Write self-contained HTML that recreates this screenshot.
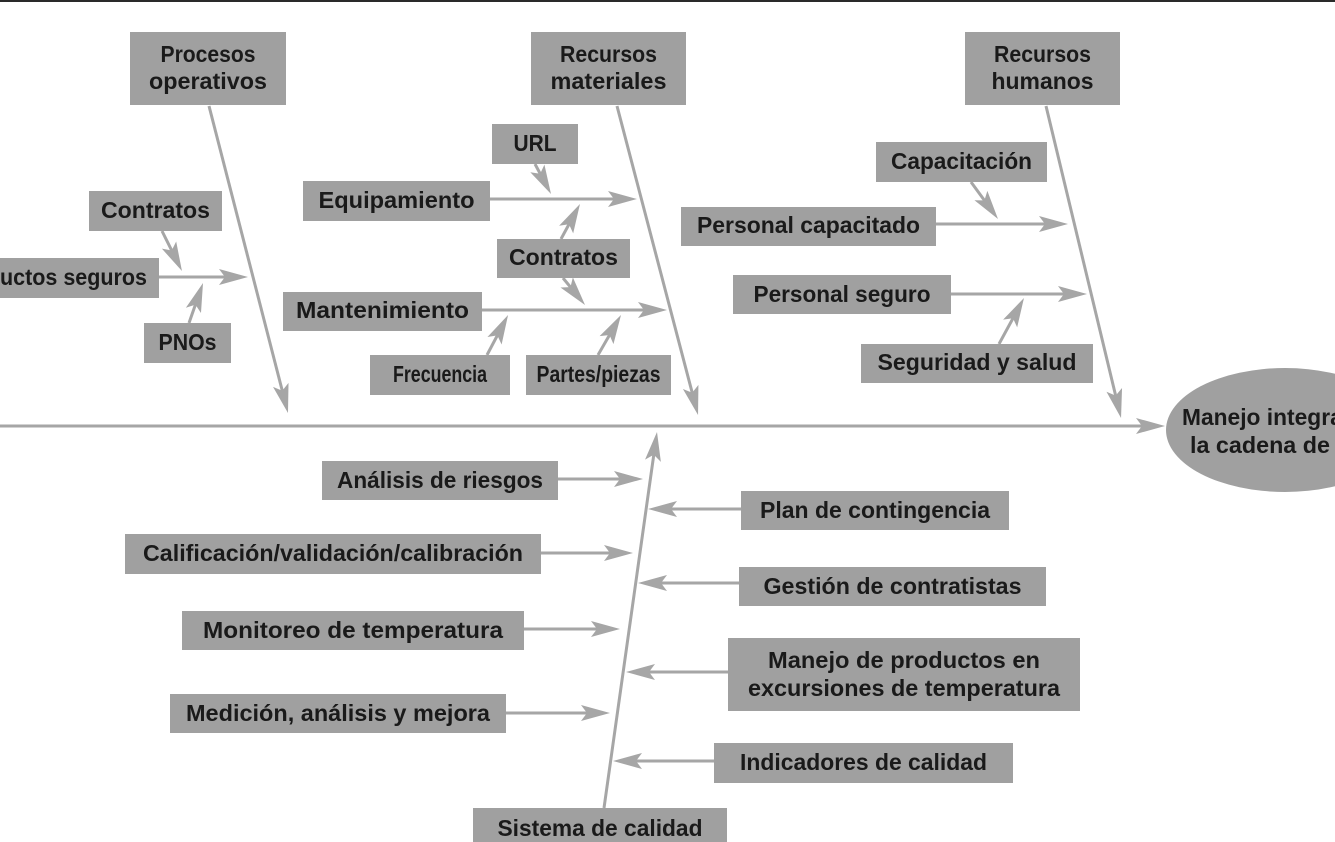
<!DOCTYPE html>
<html><head><meta charset="utf-8"><style>
html,body{margin:0;padding:0;background:#fff;}
svg{display:block;}
text{font-family:"Liberation Sans",Arial,sans-serif;font-weight:bold;font-size:23px;fill:#1a1a1a;}
</style></head><body>
<svg width="1335" height="842" viewBox="0 0 1335 842" xmlns="http://www.w3.org/2000/svg">
<defs>
<marker id="ah" viewBox="-20 -9 31 18" markerWidth="31" markerHeight="18" refX="0" refY="0" orient="auto" markerUnits="userSpaceOnUse" overflow="visible">
<path d="M10,0 L-19,-8 L-13,0 L-19,8 Z" fill="#a6a6a6"/>
</marker>
</defs>
<rect x="0" y="0" width="1335" height="2" fill="#2a2a2a"/>

<g stroke="#a6a6a6" stroke-width="3" fill="none" marker-end="url(#ah)">
<line x1="209" y1="106" x2="285.5" y2="403.3"/>
<line x1="617" y1="106" x2="695.5" y2="405.3"/>
<line x1="1046" y1="106" x2="1118.7" y2="408.3"/>
<line x1="159" y1="277" x2="238" y2="277"/>
<line x1="162" y1="231" x2="177.5" y2="262.1"/>
<line x1="189" y1="323" x2="199.7" y2="292.4"/>
<line x1="490" y1="199" x2="627" y2="199"/>
<line x1="535" y1="164" x2="546.3" y2="185.2"/>
<line x1="561" y1="239" x2="575.2" y2="212.8"/>
<line x1="563" y1="278" x2="578.7" y2="297.2"/>
<line x1="482" y1="310" x2="657" y2="310"/>
<line x1="487" y1="355" x2="503.4" y2="323.9"/>
<line x1="598" y1="355" x2="616" y2="323.7"/>
<line x1="971" y1="182" x2="992.1" y2="210.9"/>
<line x1="936" y1="224" x2="1058" y2="224"/>
<line x1="951" y1="294" x2="1077" y2="294"/>
<line x1="999" y1="344" x2="1019.2" y2="306.8"/>
<line x1="0" y1="426" x2="1155" y2="426"/>
<line x1="604" y1="808" x2="655.6" y2="441.9"/>
<line x1="558" y1="479" x2="633" y2="479"/>
<line x1="541" y1="553" x2="623" y2="553"/>
<line x1="524" y1="629" x2="610" y2="629"/>
<line x1="506" y1="713" x2="600" y2="713"/>
<line x1="741" y1="509" x2="658" y2="509"/>
<line x1="739" y1="583" x2="648" y2="583"/>
<line x1="728" y1="672" x2="636" y2="672"/>
<line x1="714" y1="761" x2="623" y2="761"/>
</g>

<g fill="#a0a0a0">
<rect x="130" y="32" width="156" height="73"/>
<rect x="531" y="32" width="155" height="73"/>
<rect x="965" y="32" width="155" height="73"/>
<rect x="89" y="191" width="133" height="40"/>
<rect x="-70" y="258" width="229" height="40"/>
<rect x="144" y="323" width="87" height="40"/>
<rect x="492" y="124" width="86" height="40"/>
<rect x="303" y="181" width="187" height="40"/>
<rect x="497" y="239" width="133" height="39"/>
<rect x="283" y="292" width="199" height="39"/>
<rect x="370" y="355" width="140" height="40"/>
<rect x="526" y="355" width="145" height="40"/>
<rect x="876" y="142" width="171" height="40"/>
<rect x="681" y="207" width="255" height="39"/>
<rect x="733" y="275" width="218" height="39"/>
<rect x="861" y="344" width="232" height="39"/>
<ellipse cx="1285" cy="430" rx="119" ry="62"/>
<rect x="322" y="461" width="236" height="39"/>
<rect x="125" y="534" width="416" height="40"/>
<rect x="182" y="611" width="342" height="39"/>
<rect x="170" y="694" width="336" height="39"/>
<rect x="741" y="491" width="268" height="39"/>
<rect x="739" y="567" width="307" height="39"/>
<rect x="728" y="638" width="352" height="73"/>
<rect x="714" y="743" width="299" height="40"/>
<rect x="473" y="808" width="254" height="40"/>
</g>

<g text-anchor="middle">
<text x="208" y="62" textLength="95" lengthAdjust="spacingAndGlyphs">Procesos</text>
<text x="208" y="89" textLength="118" lengthAdjust="spacingAndGlyphs">operativos</text>
<text x="608.5" y="62" textLength="97" lengthAdjust="spacingAndGlyphs">Recursos</text>
<text x="608.5" y="89" textLength="116" lengthAdjust="spacingAndGlyphs">materiales</text>
<text x="1042.5" y="62" textLength="97" lengthAdjust="spacingAndGlyphs">Recursos</text>
<text x="1042.5" y="89" textLength="102" lengthAdjust="spacingAndGlyphs">humanos</text>
<text x="155.5" y="218" textLength="109" lengthAdjust="spacingAndGlyphs">Contratos</text>
<text x="187.5" y="350" textLength="58" lengthAdjust="spacingAndGlyphs">PNOs</text>
<text x="535" y="151" textLength="43" lengthAdjust="spacingAndGlyphs">URL</text>
<text x="396.5" y="208" textLength="156" lengthAdjust="spacingAndGlyphs">Equipamiento</text>
<text x="563.5" y="265" textLength="109" lengthAdjust="spacingAndGlyphs">Contratos</text>
<text x="382.5" y="318" textLength="173" lengthAdjust="spacingAndGlyphs">Mantenimiento</text>
<text x="440" y="382" textLength="94" lengthAdjust="spacingAndGlyphs">Frecuencia</text>
<text x="598.5" y="382" textLength="124" lengthAdjust="spacingAndGlyphs">Partes/piezas</text>
<text x="961.5" y="169" textLength="141" lengthAdjust="spacingAndGlyphs">Capacitación</text>
<text x="808.5" y="233" textLength="223" lengthAdjust="spacingAndGlyphs">Personal capacitado</text>
<text x="842" y="302" textLength="177" lengthAdjust="spacingAndGlyphs">Personal seguro</text>
<text x="977" y="370" textLength="199" lengthAdjust="spacingAndGlyphs">Seguridad y salud</text>
<text x="1282" y="425" textLength="200" lengthAdjust="spacingAndGlyphs">Manejo integral de</text>
<text x="1282" y="453" textLength="184" lengthAdjust="spacingAndGlyphs">la cadena de frío</text>
<text x="440" y="488" textLength="206" lengthAdjust="spacingAndGlyphs">Análisis de riesgos</text>
<text x="333" y="561" textLength="380" lengthAdjust="spacingAndGlyphs">Calificación/validación/calibración</text>
<text x="353" y="638" textLength="300" lengthAdjust="spacingAndGlyphs">Monitoreo de temperatura</text>
<text x="338" y="721" textLength="304" lengthAdjust="spacingAndGlyphs">Medición, análisis y mejora</text>
<text x="875" y="518" textLength="230" lengthAdjust="spacingAndGlyphs">Plan de contingencia</text>
<text x="892.5" y="594" textLength="258" lengthAdjust="spacingAndGlyphs">Gestión de contratistas</text>
<text x="904" y="668" textLength="272" lengthAdjust="spacingAndGlyphs">Manejo de productos en</text>
<text x="904" y="696" textLength="312" lengthAdjust="spacingAndGlyphs">excursiones de temperatura</text>
<text x="863.5" y="770" textLength="247" lengthAdjust="spacingAndGlyphs">Indicadores de calidad</text>
<text x="600" y="836" textLength="205" lengthAdjust="spacingAndGlyphs">Sistema de calidad</text>
</g>
<text x="147" y="285" text-anchor="end" textLength="196" lengthAdjust="spacingAndGlyphs">Productos seguros</text>
</svg>
</body></html>
